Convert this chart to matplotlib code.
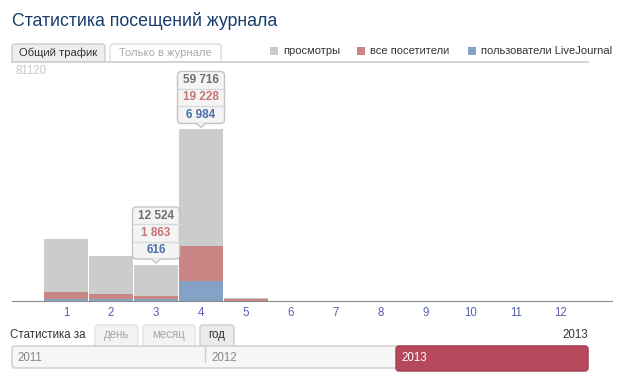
import matplotlib.pyplot as plt
from matplotlib.patches import FancyBboxPatch, Rectangle, Polygon

plt.rcParams['font.family'] = ['Liberation Sans', 'DejaVu Sans']

# data
months = list(range(1, 13))
views = [21700, 15500, 12524, 59716, 900, 0, 0, 0, 0, 0, 0, 0]
visitors = [3000, 2300, 1863, 19228, 600, 0, 0, 0, 0, 0, 0, 0]
lj_users = [650, 600, 616, 6984, 60, 0, 0, 0, 0, 0, 0, 0]
y_max = 81120
legend_labels = ['просмотры', 'все посетители', 'пользователи LiveJournal']
tooltip_months = [3, 4]
tabs = ['Общий трафик', 'Только в журнале']
periods = ['день', 'месяц', 'год']
years = ['2011', '2012', '2013']

c_views = '#cccccc'
c_visitors = '#c98484'
c_lj = '#84a1c6'

W, H = 630, 384
fig = plt.figure(figsize=(W / 100, H / 100), dpi=100)


def px_box(x0, y0, x1, y1):
    # pixel box (from top-left) -> figure fraction
    return [x0 / W, 1 - y1 / H, (x1 - x0) / W, (y1 - y0) / H]


# bar chart
ax = fig.add_axes(px_box(12, 68, 612, 301))
ax.bar(months, views, width=0.98, color=c_views, linewidth=0)
ax.bar(months, visitors, width=0.98, color=c_visitors, linewidth=0)
ax.bar(months, lj_users, width=0.98, color=c_lj, linewidth=0)
ax.set_xlim(-0.2, 13.133)
ax.set_ylim(0, y_max)
for s in ['top', 'right', 'left']:
    ax.spines[s].set_visible(False)
ax.spines['bottom'].set_color('#8c8c8c')
ax.set_yticks([])
ax.set_xticks(months)
ax.tick_params(axis='x', length=0, pad=4, labelsize=8.3, labelcolor='#5560b0')

# overlay in pixel coordinates for the page furniture
ov = fig.add_axes([0, 0, 1, 1])
ov.set_xlim(0, W)
ov.set_ylim(H, 0)
ov.axis('off')

ov.text(12, 26, 'Статистика посещений журнала', fontsize=12.8,
        color='#163c6c', va='baseline')


def box(x0, y0, x1, y1, fc, ec, r=3, z=1):
    p = FancyBboxPatch((x0, y0), x1 - x0, y1 - y0,
                       boxstyle=f'round,pad=0,rounding_size={r}',
                       fc=fc, ec=ec, lw=1, zorder=z)
    ov.add_patch(p)


# top tabs
tab_x = [(12, 105), (110, 221)]
for k, (lbl, (x0, x1)) in enumerate(zip(tabs, tab_x)):
    active = k == 0
    box(x0, 44, x1, 64, '#eeeeee' if active else '#ffffff',
        '#cccccc' if active else '#dddddd')
    ov.text((x0 + x1) / 2, 52.5, lbl, fontsize=8.1, ha='center', va='center',
            color='#333333' if active else '#aaaaaa')
ov.add_patch(Rectangle((8, 62), 220, 4, fc='white', ec='none', zorder=2))
ov.plot([12, 588], [61.5, 61.5], color='#cccccc', lw=1.2, zorder=3)

# legend
leg_x = [270, 357, 468]
for lbl, x, c in zip(legend_labels, leg_x, [c_views, c_visitors, c_lj]):
    ov.add_patch(Rectangle((x, 47), 8, 8, fc=c, ec='none'))
    ov.text(x + 13, 51, lbl, fontsize=8.0, va='center', color='#333333')

ov.text(16, 71, str(y_max), fontsize=8.3, va='center', color='#c8c8c8')

# tooltips
fig.canvas.draw()
for m in tooltip_months:
    i = m - 1
    dx, dy = ax.transData.transform((m, views[i]))
    cx, top = dx, H - dy
    y1 = top - 6
    y0 = y1 - 52
    x0, x1 = cx - 23.5, cx + 23.5
    box(x0, y0, x1, y1, '#f4f4f4', '#c4c4c4', r=4, z=5)
    ov.add_patch(Polygon([(cx - 4.5, y1 - 0.6), (cx + 4.5, y1 - 0.6), (cx, y1 + 4)],
                         closed=True, fc='#f4f4f4', ec='none', zorder=6))
    ov.plot([cx - 4.5, cx, cx + 4.5], [y1, y1 + 4, y1], color='#c4c4c4',
            lw=1, zorder=6)
    for k in (1, 2):
        ov.plot([x0, x1], [y0 + 52 * k / 3] * 2, color='#d9d9d9', lw=1, zorder=6)
    vals = [views[i], visitors[i], lj_users[i]]
    cols = ['#6f6f6f', '#c87474', '#4a70aa']
    for k, (v, c) in enumerate(zip(vals, cols)):
        ov.text(cx, y0 + 52 * (k + 0.5) / 3, f'{v:,}'.replace(',', ' '),
                fontsize=8.5, fontweight='bold', ha='center', va='center',
                color=c, zorder=7)

# period selector
ov.text(10, 335, 'Статистика за', fontsize=8.3, va='center', color='#333333')
period_x = [(95, 138), (143, 195), (200, 234)]
for k, (lbl, (x0, x1)) in enumerate(zip(periods, period_x)):
    active = k == 2
    box(x0, 325, x1, 350, '#ebebeb' if active else '#f3f3f3',
        '#cccccc' if active else '#e2e2e2')
    ov.text((x0 + x1) / 2, 335, lbl, fontsize=8.3, ha='center', va='center',
            color='#333333' if active else '#aaaaaa', zorder=3)
ov.add_patch(Rectangle((0, 346), W, 30, fc='white', ec='none', zorder=2))
ov.text(588, 335, years[-1], fontsize=8.3, ha='right', va='center',
        color='#333333')

# year slider
box(12, 346, 588, 368, '#f6f6f6', '#cccccc', z=3)
year_x = [12, 205, 396]
for k, (lbl, x) in enumerate(zip(years, year_x)):
    if k == len(years) - 1:
        box(x, 346, 588, 371, '#b5495b', '#a83c50', z=4)
        ov.text(x + 5, 358, lbl, fontsize=8.3, va='center', color='white', zorder=5)
    else:
        ov.text(x + 5 + (1 if k else 0), 358, lbl, fontsize=8.3, va='center',
                color='#888888', zorder=5)
    if 0 < k < len(years) - 1:
        ov.plot([x, x], [346, 362], color='#cccccc', lw=1, zorder=4)

fig.savefig('out.png', dpi=100)
